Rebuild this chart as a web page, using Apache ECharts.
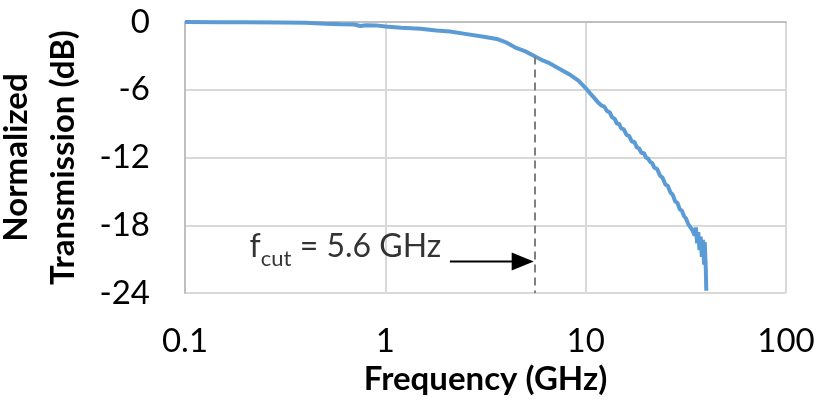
<!DOCTYPE html>
<html>
<head>
<meta charset="utf-8">
<script src="https://cdn.jsdelivr.net/npm/echarts@6/dist/echarts.min.js"></script>
<style>
html,body{margin:0;padding:0;background:#fff;}
#chart{width:817px;height:413px;}
</style>
</head>
<body>
<div id="chart"></div>
<script>
// Frequency (GHz)
var freq = [0.1,0.15,0.2,0.3,0.4,0.5,0.6,0.7,0.75,0.8,0.9,1.0,1.2,1.5,1.8,2.1,2.5,3.1,3.6,4.0,4.5,5.0,5.6,6.1,6.6,7.5,8.4,9.2,
  10,10.5,11,11.5,12,12.4,12.8,13.2,13.5,14,14.3,14.7,15,15.5,16,16.5,17,17.5,18,18.5,19,19.5,20,20.5,21,21.5,22,22.7,23.5,24.2,25,25.7,26.5,27.2,28,28.7,29.5,30.2,31,31.7,32.5,33.2,34,34.5,35,
  35.5,36,36.5,37,37.5,38,38.5,39,39.3,39.6,39.8,40];
// Normalized transmission (dB)
var trans = [0,-0.02,-0.03,-0.04,-0.06,-0.15,-0.2,-0.22,-0.35,-0.28,-0.3,-0.4,-0.5,-0.6,-0.75,-0.85,-1.05,-1.3,-1.5,-1.8,-2.3,-2.6,-3.05,-3.4,-3.65,-4.2,-4.7,-5.2,
  -5.85,-6.3,-6.7,-7.1,-7.4,-7.5,-7.9,-8.0,-8.4,-8.6,-9.0,-9.0,-9.4,-9.5,-10.0,-10.1,-10.6,-10.6,-11.1,-11.2,-11.6,-11.6,-12.0,-12.1,-12.4,-12.5,-12.9,-13.0,-13.6,-13.8,-14.4,-14.5,-15.1,-15.3,-15.9,-16.0,-16.6,-16.7,-17.2,-17.4,-17.9,-17.9,-18.4,-18.3,-18.9,
  -18.2,-19.6,-18.6,-20.2,-19.0,-20.8,-19.3,-21.5,-19.5,-21.0,-22.0,-23.8];
var xTicks = ['0.1','1','10','100'];
var yTicks = [0,-6,-12,-18,-24];
// annotation
var fCut = 5.6;
var fCutDb = -3.05;
var arrowFrom = [2.1, -21.2];
var arrowTo = [4.85, -21.2];
var labelAt = [1.9, -19.9];

var data = freq.map(function(f,i){return [f, trans[i]];});
var chart = echarts.init(document.getElementById('chart'));
var FONT = 'Lato';
chart.setOption({
  animation:false,
  backgroundColor:'#fff',
  grid:{left:185,right:31,top:22,bottom:120,outerBoundsMode:'none',containLabel:false},
  xAxis:{
    type:'log', logBase:10, min:0.1, max:100,
    name:'Frequency (GHz)', nameLocation:'middle', nameGap:66,
    nameTextStyle:{fontFamily:FONT,fontWeight:'bold',fontSize:33,color:'#000'},
    axisLine:{lineStyle:{color:'#BFBFBF',width:2}},
    axisTick:{show:false},
    minorTick:{show:false},
    splitLine:{show:true,lineStyle:{color:'#D9D9D9',width:2}},
    axisLabel:{fontFamily:FONT,fontSize:33,color:'#000',margin:32,
      formatter:function(v){var s=String(parseFloat(Number(v).toPrecision(6)));return xTicks.indexOf(s)>=0?s:'';}}
  },
  yAxis:{
    type:'value', min:-24, max:0, interval:6,
    name:'Normalized\nTransmission (dB)', nameLocation:'middle', nameGap:98, nameRotate:90,
    nameTextStyle:{fontFamily:FONT,fontWeight:'bold',fontSize:33,color:'#000',lineHeight:47},
    axisLine:{show:true,lineStyle:{color:'#BFBFBF',width:2}},
    axisTick:{show:false},
    splitLine:{show:true,lineStyle:{color:'#D9D9D9',width:2}},
    axisLabel:{fontFamily:FONT,fontSize:33,color:'#000',margin:35,
      formatter:function(v){return yTicks.indexOf(v)>=0?String(v):'';}}
  },
  series:[
    {type:'line',data:data,showSymbol:false,symbol:'none',
     lineStyle:{color:'#5B9BD5',width:4},
     markLine:{silent:true,symbol:['none','none'],
       lineStyle:{color:'#7F7F7F',width:2,type:[8,5]},
       label:{show:false},
       data:[[{coord:[fCut,fCutDb]},{coord:[fCut,-24]}]]}
    },
    {type:'line',data:[arrowFrom,arrowTo],showSymbol:false,symbol:'none',
     lineStyle:{color:'#000',width:2},silent:true,
     markLine:{silent:true,symbol:['none','triangle'],symbolSize:[18,22],
       lineStyle:{color:'#000',width:1,opacity:1},itemStyle:{color:'#000'},label:{show:false},
       data:[[{coord:[arrowTo[0]*0.9,arrowTo[1]]},{coord:[arrowTo[0]*1.0,arrowTo[1]]}]]}
    },
    {type:'scatter',data:[labelAt],symbolSize:0,silent:true,
     label:{show:true,position:'left',distance:0,
       formatter:'{a|f}{b|cut}{a| = 5.6 GHz}',
       rich:{a:{fontFamily:FONT,fontSize:32,color:'#000',lineHeight:46,verticalAlign:'middle'},
             b:{fontFamily:FONT,fontSize:22,color:'#000',lineHeight:46,verticalAlign:'bottom'}}}
    }
  ]
});
</script>
</body>
</html>
